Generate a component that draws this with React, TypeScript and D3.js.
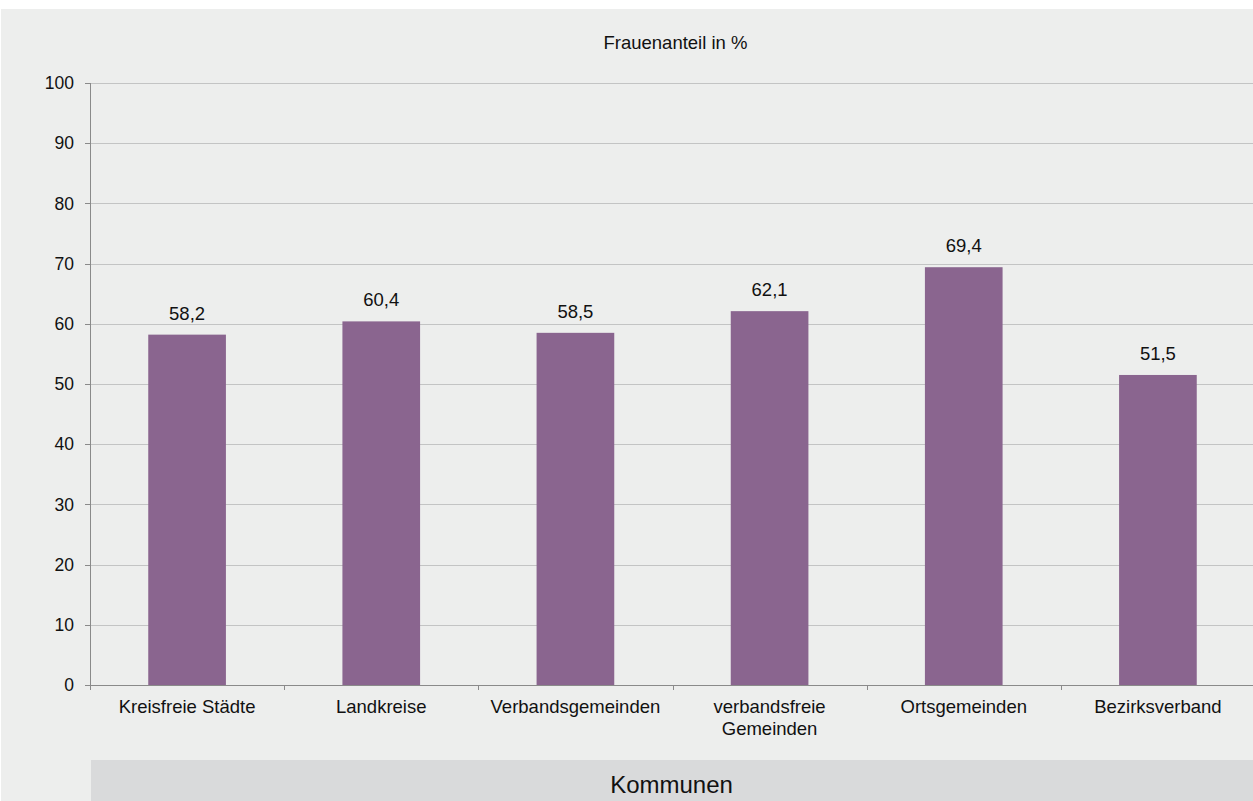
import React from "react";
import * as d3 from "d3";

const categories = [
  "Kreisfreie Städte",
  "Landkreise",
  "Verbandsgemeinden",
  "verbandsfreie\nGemeinden",
  "Ortsgemeinden",
  "Bezirksverband",
];
const values = [58.2, 60.4, 58.5, 62.1, 69.4, 51.5];
const yTicks = [0, 10, 20, 30, 40, 50, 60, 70, 80, 90, 100];
const chartTitle = "Frauenanteil in %";
const axisTitle = "Kommunen";

const W = 1253;
const H = 801;
const FONT = "'Liberation Sans', Arial, Helvetica, sans-serif";

export default function App() {
  const left = 90;
  const right = 1255;
  const top = 83;
  const bottom = 685;

  const x = d3.scaleBand<string>().domain(categories).range([left, right]).padding(0);
  const y = d3.scaleLinear().domain([0, 100]).range([bottom, top]);
  const bw = x.bandwidth();
  const fmt = (v: number) => v.toFixed(1).replace(".", ",");

  return (
    <svg
      width={W}
      height={H}
      style={{ position: "absolute", left: 0, top: 0, background: "#ffffff" }}
      fontFamily={FONT}
    >
      <rect x={1} y={9} width={W - 1} height={H - 9} fill="#edeeed" />
      <rect x={left + 1} y={760} width={W - left - 1} height={H - 760} fill="#d9dadb" />

      <text x={675.5} y={49} textAnchor="middle" fontSize={18.5} fill="#111">
        {chartTitle}
      </text>

      {yTicks.map((t) => (
        <g key={t}>
          {t > 0 && (
            <line x1={left} x2={W} y1={Math.round(y(t)) + 0.5} y2={Math.round(y(t)) + 0.5} stroke="#c3c4c4" strokeWidth={1} />
          )}
          <line x1={left - 5} x2={left} y1={Math.round(y(t)) + 0.5} y2={Math.round(y(t)) + 0.5} stroke="#8a8a8a" strokeWidth={1} />
          <text x={74} y={y(t)} dy="0.35em" textAnchor="end" fontSize={17.5} fill="#111">
            {t}
          </text>
        </g>
      ))}

      {categories.map((c, i) => (
        <g key={c}>
          <rect
            x={(x(c) as number) + bw * 0.3}
            y={y(values[i])}
            width={bw * 0.4}
            height={y(0) - y(values[i])}
            fill="#8a658f"
          />
          <text
            x={(x(c) as number) + bw / 2}
            y={y(values[i]) - 15}
            textAnchor="middle"
            fontSize={18.5}
            fill="#111"
          >
            {fmt(values[i])}
          </text>
          {c.split("\n").map((line, j) => (
            <text
              key={j}
              x={(x(c) as number) + bw / 2}
              y={713 + j * 22}
              textAnchor="middle"
              fontSize={18.5}
              fill="#111"
            >
              {line}
            </text>
          ))}
        </g>
      ))}

      {categories.map((c, i) => (
        <line
          key={"t" + i}
          x1={Math.round(x(c) as number) + 0.5}
          x2={Math.round(x(c) as number) + 0.5}
          y1={bottom}
          y2={bottom + 5}
          stroke="#8a8a8a"
        />
      ))}
      <line x1={left + 0.5} x2={left + 0.5} y1={top} y2={bottom + 5} stroke="#8a8a8a" />
      <line x1={left} x2={W} y1={bottom + 0.5} y2={bottom + 0.5} stroke="#8a8a8a" />

      <text x={(left + W) / 2} y={793} textAnchor="middle" fontSize={24} fill="#111">
        {axisTitle}
      </text>
    </svg>
  );
}
